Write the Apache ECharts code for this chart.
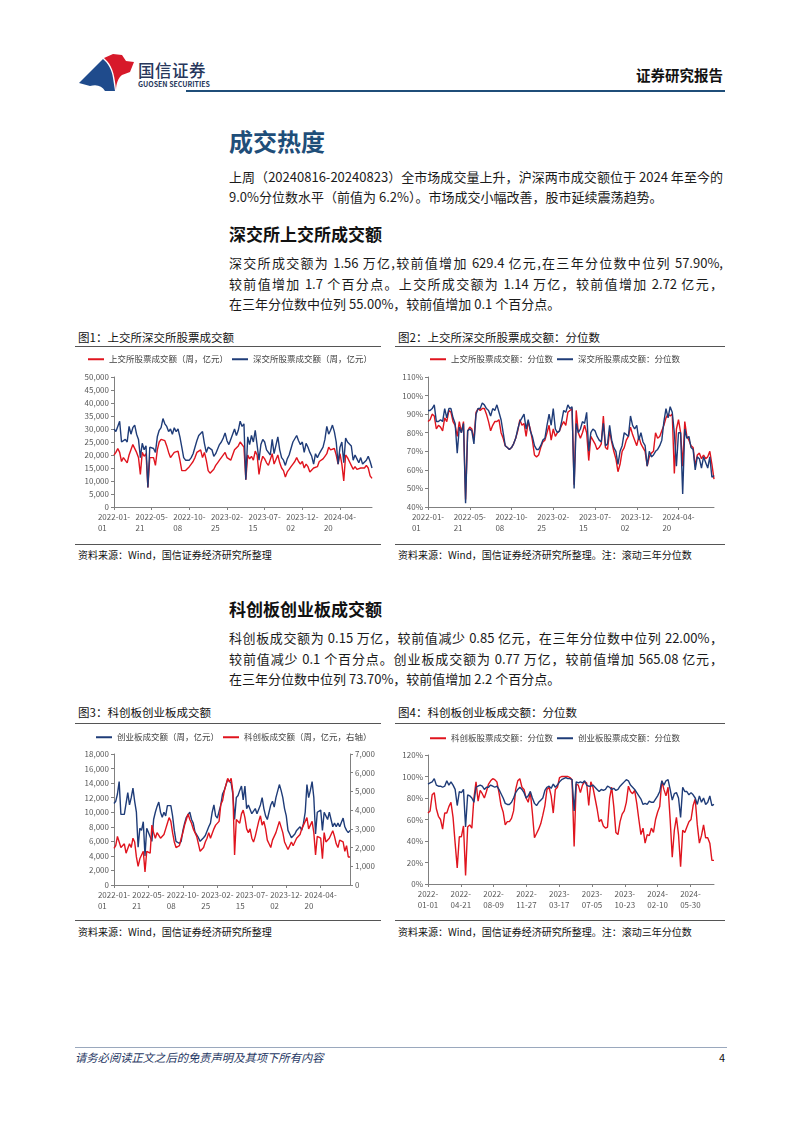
<!DOCTYPE html>
<html><head><meta charset="utf-8">
<script src="https://cdn.jsdelivr.net/npm/echarts@6.0.0/dist/echarts.min.js"></script>
<style>
body{margin:0;width:802px;height:1133px;position:relative;background:#fff;overflow:hidden;font-family:"Noto Sans CJK SC","Noto Sans",sans-serif;}
.t{position:absolute;white-space:nowrap;color:#111;}
.ln{position:absolute;left:229px;width:494px;font-size:13px;line-height:13px;white-space:nowrap;color:#1a1a1a;text-align:justify;text-align-last:justify;}
.last{text-align:left;text-align-last:left;}
.hr{position:absolute;height:1px;background:#555;}
#c{position:absolute;left:0;top:0;width:802px;height:1133px;}
</style></head>
<body>
<svg style="position:absolute;left:0;top:0" width="160" height="100">
  <path d="M79,83 L103,59 C108,63 112,70 113,78 L115,91 L105,91 C102,86 97,84 90,86 Z" fill="#1f4b8c"/>
  <path d="M104,58 L113,54 L122,55 L126,61 L134,62 L130,72 L122,75 C118,78 116,84 116,90 C115,78 113,67 107,61 Z" fill="#d7192a"/>
</svg>
<div class="t" style="left:138px;top:62px;font-size:16.5px;line-height:17px;color:#27375c;font-weight:500;letter-spacing:0.5px">国信证券</div>
<div class="t" style="left:138px;top:81px;font-size:7px;line-height:7px;color:#27375c;font-weight:700">GUOSEN SECURITIES</div>
<div class="t" style="left:636px;top:67px;font-size:14.5px;line-height:15px;font-weight:700;color:#111">证券研究报告</div>
<div class="hr" style="left:186px;top:90px;width:539px;height:2px;background:#1f4e79"></div>

<div class="t" style="left:229px;top:129px;font-size:24px;line-height:24px;font-weight:700;color:#1f4e79">成交热度</div>
<div class="ln" style="top:170px">上周（20240816-20240823）全市场成交量上升，沪深两市成交额位于 2024 年至今的</div>
<div class="ln last" style="top:190px">9.0%分位数水平（前值为 6.2%）。市场成交小幅改善，股市延续震荡趋势。</div>

<div class="t" style="left:229px;top:225px;font-size:17px;line-height:17px;font-weight:700">深交所上交所成交额</div>
<div class="ln" style="top:256px">深交所成交额为 1.56 万亿,较前值增加 629.4 亿元,在三年分位数中位列 57.90%,</div>
<div class="ln" style="top:277px">较前值增加 1.7 个百分点。上交所成交额为 1.14 万亿，较前值增加 2.72 亿元，</div>
<div class="ln last" style="top:297px">在三年分位数中位列 55.00%，较前值增加 0.1 个百分点。</div>

<div class="t" style="left:78px;top:331px;font-size:11.5px;line-height:12px">图1：上交所深交所股票成交额</div>
<div class="t" style="left:398px;top:331px;font-size:11.5px;line-height:12px">图2：上交所深交所股票成交额：分位数</div>
<div class="hr" style="left:75px;top:346px;width:306px"></div>
<div class="hr" style="left:395px;top:346px;width:330px"></div>
<div class="hr" style="left:75px;top:544px;width:306px"></div>
<div class="hr" style="left:395px;top:544px;width:330px"></div>
<div class="t" style="left:78px;top:550px;font-size:10px;line-height:10px">资料来源：Wind，国信证券经济研究所整理</div>
<div class="t" style="left:398px;top:550px;font-size:10px;line-height:10px">资料来源：Wind，国信证券经济研究所整理。注：滚动三年分位数</div>

<div class="t" style="left:229px;top:600px;font-size:17px;line-height:17px;font-weight:700">科创板创业板成交额</div>
<div class="ln" style="top:631px">科创板成交额为 0.15 万亿，较前值减少 0.85 亿元，在三年分位数中位列 22.00%，</div>
<div class="ln" style="top:652px">较前值减少 0.1 个百分点。创业板成交额为 0.77 万亿，较前值增加 565.08 亿元，</div>
<div class="ln last" style="top:672px">在三年分位数中位列 73.70%，较前值增加 2.2 个百分点。</div>

<div class="t" style="left:78px;top:706px;font-size:11.5px;line-height:12px">图3：科创板创业板成交额</div>
<div class="t" style="left:398px;top:706px;font-size:11.5px;line-height:12px">图4：科创板创业板成交额：分位数</div>
<div class="hr" style="left:75px;top:723px;width:306px"></div>
<div class="hr" style="left:395px;top:723px;width:330px"></div>
<div class="hr" style="left:75px;top:920px;width:306px"></div>
<div class="hr" style="left:395px;top:920px;width:330px"></div>
<div class="t" style="left:78px;top:927px;font-size:10px;line-height:10px">资料来源：Wind，国信证券经济研究所整理</div>
<div class="t" style="left:398px;top:927px;font-size:10px;line-height:10px">资料来源：Wind，国信证券经济研究所整理。注：滚动三年分位数</div>

<div class="hr" style="left:75px;top:1047px;width:652px;background:#9aa8bd"></div>
<div class="t" style="left:75px;top:1051px;font-size:11.3px;line-height:12px;font-style:italic;color:#1f3864">请务必阅读正文之后的免责声明及其项下所有内容</div>
<div class="t" style="left:719px;top:1051px;font-size:11px;line-height:12px;color:#111">4</div>

<div id="c"></div>
<script>
// ---------- data ----------
const startDate = '2022-01-01';
const weekCount = 138;
const dates = [];
(function(){const t0=Date.parse(startDate+'T00:00:00Z');for(let i=0;i<weekCount;i++){dates.push(new Date(t0+i*7*86400000).toISOString().slice(0,10));}})();

// Fig1 (亿元)
const sseAmt = [20000,21000,22500,21000,17500,19000,19500,17000,20000,22000,
24000,24500,21000,19000,12500,21000,19500,20500,7500,19000,
18500,19000,16000,22000,25000,26000,26500,25500,23500,21000,
19000,18500,21000,20500,21500,18000,14000,13500,14000,14500,
15500,16500,17500,19000,21000,20500,22000,19000,21000,18000,
14000,13000,13000,14500,16000,17000,18000,19000,18500,21000,
19000,18500,18000,20000,22000,21500,23500,25000,25000,23000,
10500,20000,18500,19500,18000,21500,20000,12500,17000,19500,
18500,17000,16000,15500,20500,16500,16000,20000,17000,15000,
14000,11500,13500,14500,15500,16500,17500,19000,17500,16500,
17500,15000,16500,15500,13500,13000,15000,15000,15500,17500,
18000,18500,19500,20500,23000,22000,21500,22500,20000,16500,
20500,16500,10000,20000,19000,17500,16000,14500,15500,14500,
14000,15000,14500,15000,16000,15000,12000,11000];
const szseAmt = [30000,29000,31000,33000,25000,25500,26000,25000,31000,28000,
30500,31500,28000,26000,19000,24500,22000,23500,7500,23000,
23000,22500,21000,27000,29500,30500,34000,32000,31000,29000,
30000,28000,30500,29000,30000,27000,23000,19000,18000,18500,
18000,19000,20500,23000,25500,27500,27000,29000,24500,21000,
23000,23500,22000,19500,20500,21000,24000,25000,26500,28500,
25500,24000,24500,28000,30000,27500,29500,33000,31000,32000,
10500,27000,24000,27500,25000,29500,30000,18000,24000,26000,
25000,22000,21500,20000,26000,20500,21000,27000,22000,19000,
18000,16000,18500,20000,22500,25000,24500,27500,25500,24000,
25000,21000,24500,23000,21000,19500,16500,20500,19000,20500,
21000,23000,26000,31000,28000,29500,31500,29000,25000,16500,
23000,25000,17000,26500,25000,24500,23500,18000,20000,18500,
17000,19000,16500,16000,18000,19500,17500,15000];

// Fig2 (%)
const ssePct = [86,87,90,89,82,84,83,81,88,86,
92,91,86,84,78,86,80,86,44,81,
83,82,76,91,93,92,93,93,90,86,
81,84,86,86,87,80,77,73,72,71,
72,74,77,81,87,84,85,78,86,82,
76,68,67,68,72,75,76,80,84,76,
82,78,80,81,84,86,84,91,92,93,
52,92,80,77,80,84,80,65,78,76,
74,71,72,74,89,72,71,81,75,70,
66,59,63,70,72,76,78,83,79,76,
73,78,74,72,70,62,67,69,70,80,
77,78,81,84,88,90,89,90,58,82,
87,80,62,86,78,76,73,72,62,68,
69,66,68,66,67,70,63,55];
const szsePct = [92,92,93,95,86,86,87,86,93,88,
93,93,88,85,69,83,80,85,42,81,
82,81,74,90,93,93,96,95,93,92,
89,93,92,95,91,87,80,73,72,71,
72,74,77,82,86,88,90,82,87,81,
78,73,71,71,73,76,77,84,90,84,
93,82,80,81,86,92,91,95,93,94,
50,85,80,82,86,85,91,70,80,82,
81,78,76,75,85,73,74,84,76,72,
70,63,70,73,80,79,78,89,84,82,
84,76,80,75,73,62,70,67,68,70,
71,73,76,86,93,88,94,91,80,62,
80,80,47,82,77,78,72,71,60,67,
66,61,67,64,61,67,56,57];

// Fig3 (亿元)
const cybAmt = [11200,11500,12500,14200,9700,9700,9700,9600,12700,11000,
12000,13300,11500,10000,5200,7800,7500,8700,4000,7800,
7200,7000,6000,9000,10000,10800,11400,10000,9300,10000,
9500,10900,10700,10900,9500,7500,6000,5800,5700,6000,
7500,8500,9300,9500,10000,9000,8500,7300,7500,6500,
6000,6000,6500,6800,7000,8000,8500,10000,11000,9500,
9200,9000,11000,12500,13000,13200,14500,14300,14000,12500,
9000,12000,12300,13000,13600,11700,13600,10500,11000,11200,
9800,10000,10500,9800,10000,11000,12000,10500,9500,9000,
10000,11000,11500,10700,12000,11800,13800,13000,12000,10500,
9500,7500,7000,6500,6500,7000,7500,7500,8000,7500,
8500,10000,13800,12000,13000,14200,12000,7000,10000,10200,
10300,7500,10000,9500,9000,10000,9000,8000,8500,8000,
8500,8000,8000,9200,8000,7500,7200,7500];
const kcbAmt = [1960,2100,2600,2700,2000,2100,2200,1700,1700,2200,
2000,2500,2300,1500,1000,1400,1600,1800,700,1800,
1700,1700,3200,2800,2500,2800,2700,2500,2500,2700,
3000,3300,3600,3400,2800,2300,2000,2000,2100,2500,
2800,3200,3500,3800,3500,3300,3000,3100,2600,2200,
1800,1900,2000,2300,2500,2800,2500,2600,3000,3200,
3300,3400,4300,4500,5000,4900,5700,5500,5700,5000,
1600,3500,3400,3300,3800,4000,3600,3000,2800,3000,
2500,2300,2600,2700,3400,3700,3200,3400,3000,2400,
2200,2000,2400,2400,2800,2700,3400,3300,2800,2300,
2300,1900,2000,2300,2100,2200,2500,2600,2700,3000,
3100,3400,3600,3000,3100,3400,2800,1600,2600,2600,
2500,1400,2800,2300,2300,2500,2600,2900,2600,2200,
2000,2400,2300,2300,1800,2100,1500,1500];

// Fig4 (%)
const kcbPct = [66,68,83,85,70,63,60,51,66,66,
72,76,62,38,15,44,44,54,8,53,
55,52,80,95,77,87,84,80,86,93,
96,98,97,95,85,73,67,55,58,58,
61,68,88,96,98,90,88,80,76,86,
66,43,47,51,56,64,73,88,90,82,
66,88,90,99,100,100,100,100,99,97,
35,93,92,85,92,95,94,73,95,90,
80,70,58,60,54,52,53,80,90,72,
48,46,58,65,68,76,91,86,84,87,
75,60,46,52,38,46,45,52,48,60,
67,72,96,88,82,90,60,25,50,62,
46,16,50,48,53,58,60,73,79,55,
38,45,55,43,43,38,22,22];
const cybPct = [93,94,95,98,92,91,91,90,91,96,
92,95,92,88,73,86,85,88,53,83,
82,80,76,90,91,92,91,88,90,90,
92,91,90,91,88,84,80,75,74,74,
76,80,85,88,90,88,85,80,82,86,
80,75,73,76,78,80,87,90,91,89,
93,90,92,95,97,98,99,98,98,97,
68,95,94,95,94,96,92,91,91,92,
90,88,86,88,87,88,91,90,88,89,
87,88,91,93,95,97,96,92,90,88,
85,82,79,74,75,74,77,76,76,79,
82,86,96,92,96,97,88,78,84,85,
80,62,90,86,86,83,85,83,80,74,
82,76,80,74,76,82,73,74];

// ---------- chart ----------
const FONT = '"Noto Sans CJK SC","Noto Sans",sans-serif';
const RED = '#e0141e', BLUE = '#1f3c78', AX = '#808080', LBL = '#595959';
const t0 = Date.parse(startDate+'T00:00:00Z');
const dayIdx = dates.map(d => Math.round((Date.parse(d+'T00:00:00Z') - t0)/86400000));

function catX(g){
  return {type:'category', gridIndex:g, data:dates, boundaryGap:false,
    axisLine:{lineStyle:{color:AX}},
    axisTick:{show:true, interval:19, length:3, lineStyle:{color:AX}},
    splitLine:{show:false},
    axisLabel:{interval:19, margin:5, color:LBL, fontFamily:FONT,
      formatter: v => '{a|'+v.slice(0,8)+'}\n{a|'+v.slice(8)+'}',
      rich:{a:{align:'left', fontSize:8, lineHeight:10.5, color:LBL, fontFamily:FONT}}}};
}
function valY(g, min, max, step, fmt, pos){
  return {type:'value', gridIndex:g, min, max, interval:step, position:pos||'left',
    axisLine:{show:true, lineStyle:{color:AX}},
    axisTick:{show:true, length:3, lineStyle:{color:AX}},
    splitLine:{show:false},
    axisLabel:{margin:5, fontSize:8, color:LBL, fontFamily:FONT, formatter:fmt}};
}
const comma = v => v.toLocaleString('en-US');
const pct = v => v + '%';
function ln(name, data, color, xi, yi){
  return {name, type:'line', data, xAxisIndex:xi, yAxisIndex:yi, symbol:'none',
    lineStyle:{width:1.4, color}, itemStyle:{color}, animation:false};
}
function lg(left, top, names){
  return {left, top, data:names, icon:'rect', itemWidth:16, itemHeight:2, itemGap:4,
    padding:0, textStyle:{fontSize:8.5, color:'#404040', fontFamily:FONT}};
}

const chart = echarts.init(document.getElementById('c'), null, {renderer:'canvas'});
chart.setOption({
  animation:false,
  textStyle:{fontFamily:FONT},
  grid:[
    {left:114, top:377, width:258, height:130},
    {left:428, top:377, width:286, height:130},
    {left:114, top:754, width:236, height:131},
    {left:428, top:755, width:286, height:129}
  ],
  legend:[
    lg(88, 355, ['上交所股票成交额（周，亿元）','深交所股票成交额（周，亿元）']),
    lg(430, 355, ['上交所股票成交额：分位数','深交所股票成交额：分位数']),
    lg(96, 733, ['创业板成交额（周，亿元）','科创板成交额（周，亿元，右轴）']),
    lg(430, 734, ['科创板股票成交额：分位数','创业板股票成交额：分位数'])
  ],
  xAxis:[
    catX(0), catX(1), catX(2),
    {type:'value', gridIndex:3, min:0, max:dayIdx[dayIdx.length-1], interval:110,
      axisLine:{lineStyle:{color:AX}}, axisTick:{show:true, length:3, lineStyle:{color:AX}},
      splitLine:{show:false},
      axisLabel:{margin:5, fontSize:8, lineHeight:10.5, color:LBL, fontFamily:FONT, showMaxLabel:false,
        formatter: d => {const s = new Date(t0 + d*86400000).toISOString(); return s.slice(0,5)+'\n'+s.slice(5,10);}}}
  ],
  yAxis:[
    valY(0, 0, 50000, 5000, comma),
    valY(1, 40, 110, 10, pct),
    valY(2, 0, 18000, 2000, comma),
    valY(2, 0, 7000, 1000, comma, 'right'),
    valY(3, 0, 120, 20, pct)
  ],
  series:[
    ln('上交所股票成交额（周，亿元）', sseAmt, RED, 0, 0),
    ln('深交所股票成交额（周，亿元）', szseAmt, BLUE, 0, 0),
    ln('上交所股票成交额：分位数', ssePct, RED, 1, 1),
    ln('深交所股票成交额：分位数', szsePct, BLUE, 1, 1),
    ln('创业板成交额（周，亿元）', cybAmt, BLUE, 2, 2),
    ln('科创板成交额（周，亿元，右轴）', kcbAmt, RED, 2, 3),
    ln('科创板股票成交额：分位数', dayIdx.map((d,i)=>[d, kcbPct[i]]), RED, 3, 4),
    ln('创业板股票成交额：分位数', dayIdx.map((d,i)=>[d, cybPct[i]]), BLUE, 3, 4)
  ]
});
</script>
</body></html>
